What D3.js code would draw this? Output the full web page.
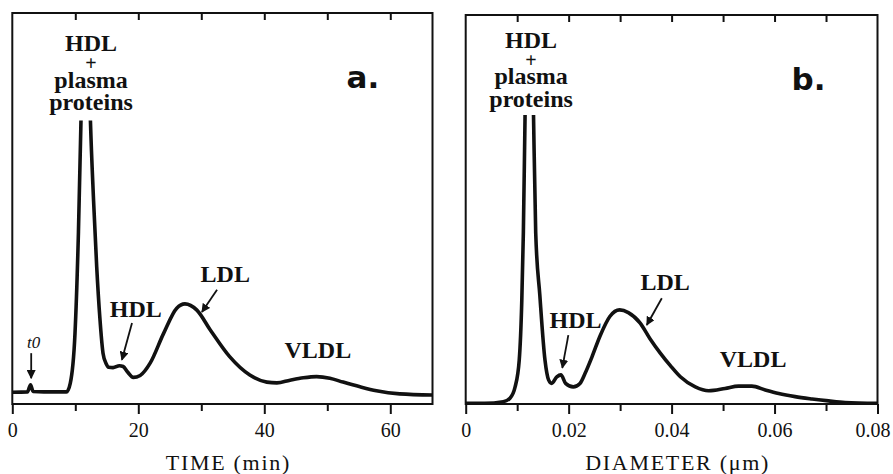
<!DOCTYPE html>
<html>
<head>
<meta charset="utf-8">
<script src="https://cdn.jsdelivr.net/npm/d3@7"></script>
<style>
  body { margin: 0; background: #fff; }
  svg { display: block; }
  .tick text { font-family: 'Liberation Serif', 'Times New Roman', serif; font-size: 20px; fill: #111; }
  .label { font-family: 'Liberation Serif', 'Times New Roman', serif; font-weight: bold; font-size: 24px; fill: #111; }
  .label.small { font-style: italic; font-weight: normal; font-size: 17px; }
  .axis-title { font-family: 'Liberation Serif', 'Times New Roman', serif; font-size: 22px; letter-spacing: 1.7px; fill: #111; }
  .tag { font-family: 'DejaVu Sans', sans-serif; font-weight: bold; font-size: 31px; fill: #111; }
</style>
</head>
<body>
<div id="chart"></div>
<script>
// Panel a: elution profile against time (min)
var timeMin = [0, 2.4, 2.9, 3.3, 5, 8.6, 9.2, 9.95, 10.5, 11.0, 11.65, 12.3, 12.9, 13.4, 13.9, 14.4, 14.9, 15.3, 16.0, 17.0, 17.6, 18.3, 19.2, 20.3, 21.9, 24.0, 26.1, 27.4, 29.3, 31.4, 34.5, 37.7, 40.4, 42.0, 44.1, 46.2, 48.3, 50.4, 52.5, 55.2, 57.8, 61.5, 66.7]
var signalTime = [3.0, 3.1, 4.9, 3.2, 3.1, 3.1, 5.3, 18, 44, 80, 130, 78, 52, 35, 22, 13, 10.3, 9.4, 9.3, 9.8, 9.6, 8.2, 6.8, 7.3, 10.5, 18, 24.5, 25.6, 24, 19, 12.1, 7.4, 5.6, 5.4, 6.1, 6.7, 7.0, 6.6, 5.6, 4.4, 3.4, 2.6, 2.3]

// Panel b: same profile against particle diameter (um)
var diameterUm = [0, 0.0037, 0.0073, 0.0086, 0.0096, 0.0104, 0.0109, 0.0112, 0.01153, 0.0123, 0.0131, 0.0136, 0.0144, 0.0154, 0.0161, 0.0167, 0.0177, 0.0185, 0.0194, 0.0209, 0.0222, 0.0232, 0.0245, 0.0261, 0.0280, 0.0299, 0.0316, 0.0339, 0.0358, 0.0378, 0.0398, 0.0417, 0.0446, 0.0472, 0.0504, 0.0530, 0.0556, 0.0582, 0.0608, 0.0640, 0.0673, 0.0705, 0.0737, 0.080]
var signalDiameter = [0.2, 0.2, 0.6, 1.5, 4.4, 11.3, 26.7, 44, 74, 130, 80, 44, 28, 11.3, 6.2, 5.3, 7.0, 7.5, 5.3, 4.4, 5.3, 7.9, 12, 17.5, 22.5, 24.2, 23.5, 20.8, 16.8, 13.1, 9.8, 7.0, 4.4, 3.4, 4.0, 4.6, 4.6, 3.6, 2.7, 1.9, 1.3, 0.8, 0.4, 0.2]

// Tick values
var timeTicks = [0, 20, 40, 60]
var timeMinorTicks = [10, 30, 50]
var timeTopTicks = [10, 20, 30, 40, 50, 60]
var diameterTicks = [0, 0.02, 0.04, 0.06, 0.08]
var diameterMinorTicks = [0.01, 0.03, 0.05, 0.07]
var diameterTopTicks = [0.01, 0.02, 0.03, 0.04, 0.05, 0.06, 0.07]

var svg = d3
  .select('#chart')
  .append('svg')
  .attr('width', 893)
  .attr('height', 474)

var defs = svg.append('defs')
defs
  .append('marker')
  .attr('id', 'arrow')
  .attr('viewBox', '0 0 10 10')
  .attr('refX', 9)
  .attr('refY', 5)
  .attr('markerWidth', 9)
  .attr('markerHeight', 9)
  .attr('markerUnits', 'userSpaceOnUse')
  .attr('orient', 'auto')
  .append('path')
  .attr('d', 'M0,0 L10,5 L0,10 Z')
  .attr('fill', '#111')

function drawPanel(opts) {
  var width = opts.width
  var height = opts.height
  var g = svg
    .append('g')
    .attr('transform', `translate(${opts.left},${opts.top})`)

  var xPositionScale = d3.scaleLinear().domain(opts.xDomain).range([0, width])
  var yPositionScale = d3.scaleLinear().domain([0, 100]).range([height, 0])

  var points = opts.xs.map((x, i) => ({ x: x, y: opts.ys[i] }))

  var line = d3
    .line()
    .x(d => xPositionScale(d.x))
    .y(d => yPositionScale(d.y))
    .curve(d3.curveMonotoneX)

  // the big peak is cut off below the label
  g.append('clipPath')
    .attr('id', 'clip-' + opts.id)
    .append('rect')
    .attr('x', 0)
    .attr('y', yPositionScale(opts.cut))
    .attr('width', width)
    .attr('height', height - yPositionScale(opts.cut))

  g.append('path')
    .datum(points)
    .attr('d', line)
    .attr('fill', 'none')
    .attr('stroke', '#111')
    .attr('stroke-width', 3.6)
    .attr('stroke-linejoin', 'round')
    .attr('clip-path', `url(#clip-${opts.id})`)

  // frame
  g.append('rect')
    .attr('x', 0)
    .attr('y', 0)
    .attr('width', width)
    .attr('height', height)
    .attr('fill', 'none')
    .attr('stroke', '#111')
    .attr('stroke-width', 2)

  // bottom axis
  var xAxis = d3
    .axisBottom(xPositionScale)
    .tickValues(opts.ticks)
    .tickFormat(opts.format)
    .tickSize(10)
    .tickSizeOuter(0)
    .tickPadding(9)
  var xAxisG = g
    .append('g')
    .attr('class', 'axis x-axis')
    .attr('transform', `translate(0,${height})`)
    .call(xAxis)
  // last label sits against the page edge, nudge it in a little
  xAxisG
    .selectAll('.tick text')
    .filter(d => d === opts.ticks[opts.ticks.length - 1] && opts.id === 'b')
    .attr('dx', -5)

  var minorAxis = d3
    .axisBottom(xPositionScale)
    .tickValues(opts.minorTicks)
    .tickFormat('')
    .tickSize(7)
    .tickSizeOuter(0)
  g.append('g')
    .attr('class', 'axis minor-axis')
    .attr('transform', `translate(0,${height})`)
    .call(minorAxis)
  var topAxis = d3
    .axisBottom(xPositionScale)
    .tickValues(opts.topTicks)
    .tickFormat('')
    .tickSize(7)
    .tickSizeOuter(0)
  g.append('g')
    .attr('class', 'axis top-axis')
    .call(topAxis)

  g.selectAll('.axis .domain').remove()
  g.selectAll('.axis line').attr('stroke', '#111').attr('stroke-width', 2)

  // axis title
  g.append('text')
    .attr('class', 'axis-title')
    .attr('x', width / 2 + 6)
    .attr('y', 470 - opts.top)
    .attr('text-anchor', 'middle')
    .text(opts.title)

  // panel tag
  g.append('text')
    .attr('class', 'tag')
    .attr('x', width - 86)
    .attr('y', 75)
    .text(opts.tag)

  // main peak label
  var stack = g
    .append('text')
    .attr('class', 'label')
    .attr('text-anchor', 'middle')
  opts.peakLines.forEach((t, i) => {
    stack
      .append('tspan')
      .attr('x', xPositionScale(opts.peakX))
      .attr('y', opts.peakY[i] - opts.top)
      .style('font-size', t === '+' ? '20px' : '24px')
      .text(t)
  })

  opts.labels.forEach(l => {
    g.append('text')
      .attr('class', l.italic ? 'label small' : 'label')
      .attr('text-anchor', 'middle')
      .attr('x', xPositionScale(l.x))
      .attr('y', yPositionScale(l.y))
      .text(l.text)
  })

  opts.arrows.forEach(a => {
    g.append('line')
      .attr('x1', xPositionScale(a[0]))
      .attr('y1', yPositionScale(a[1]))
      .attr('x2', xPositionScale(a[2]))
      .attr('y2', yPositionScale(a[3]))
      .attr('stroke', '#111')
      .attr('stroke-width', 1.8)
      .attr('marker-end', 'url(#arrow)')
  })
}

drawPanel({
  id: 'a',
  left: 12.3,
  top: 13,
  width: 420.2,
  height: 391,
  xDomain: [0, 66.7],
  xs: timeMin,
  ys: signalTime,
  cut: 72.5,
  ticks: timeTicks,
  minorTicks: timeMinorTicks,
  topTicks: timeTopTicks,
  format: d3.format('d'),
  title: 'TIME (min)',
  tag: 'a.',
  peakX: 12.5,
  peakLines: ['HDL', '+', 'plasma', 'proteins'],
  peakY: [51, 70, 88, 110],
  labels: [
    { text: 't0', x: 3.4, y: 14.3, italic: true },
    { text: 'HDL', x: 19.6, y: 22.3 },
    { text: 'LDL', x: 33.8, y: 31.2 },
    { text: 'VLDL', x: 48.5, y: 11.8 }
  ],
  arrows: [
    [3.0, 13, 3.0, 6.6],
    [19.0, 20.7, 17.4, 11.3],
    [32.5, 29.2, 30.1, 23.5]
  ]
})

drawPanel({
  id: 'b',
  left: 465.7,
  top: 15,
  width: 411.8,
  height: 389,
  xDomain: [0, 0.08],
  xs: diameterUm,
  ys: signalDiameter,
  cut: 74.3,
  ticks: diameterTicks,
  minorTicks: diameterMinorTicks,
  topTicks: diameterTopTicks,
  format: d => (d === 0 ? '0' : d3.format('.2f')(d)),
  title: 'DIAMETER (\u03bcm)',
  tag: 'b.',
  peakX: 0.0127,
  peakLines: ['HDL', '+', 'plasma', 'proteins'],
  peakY: [48, 67, 84, 107],
  labels: [
    { text: 'HDL', x: 0.02134, y: 19.5 },
    { text: 'LDL', x: 0.03874, y: 29.3 },
    { text: 'VLDL', x: 0.05584, y: 9.5 }
  ],
  arrows: [
    [0.01994, 17.7, 0.01877, 9.3],
    [0.0381, 27.2, 0.03518, 20.3]
  ]
})
</script>
</body>
</html>
